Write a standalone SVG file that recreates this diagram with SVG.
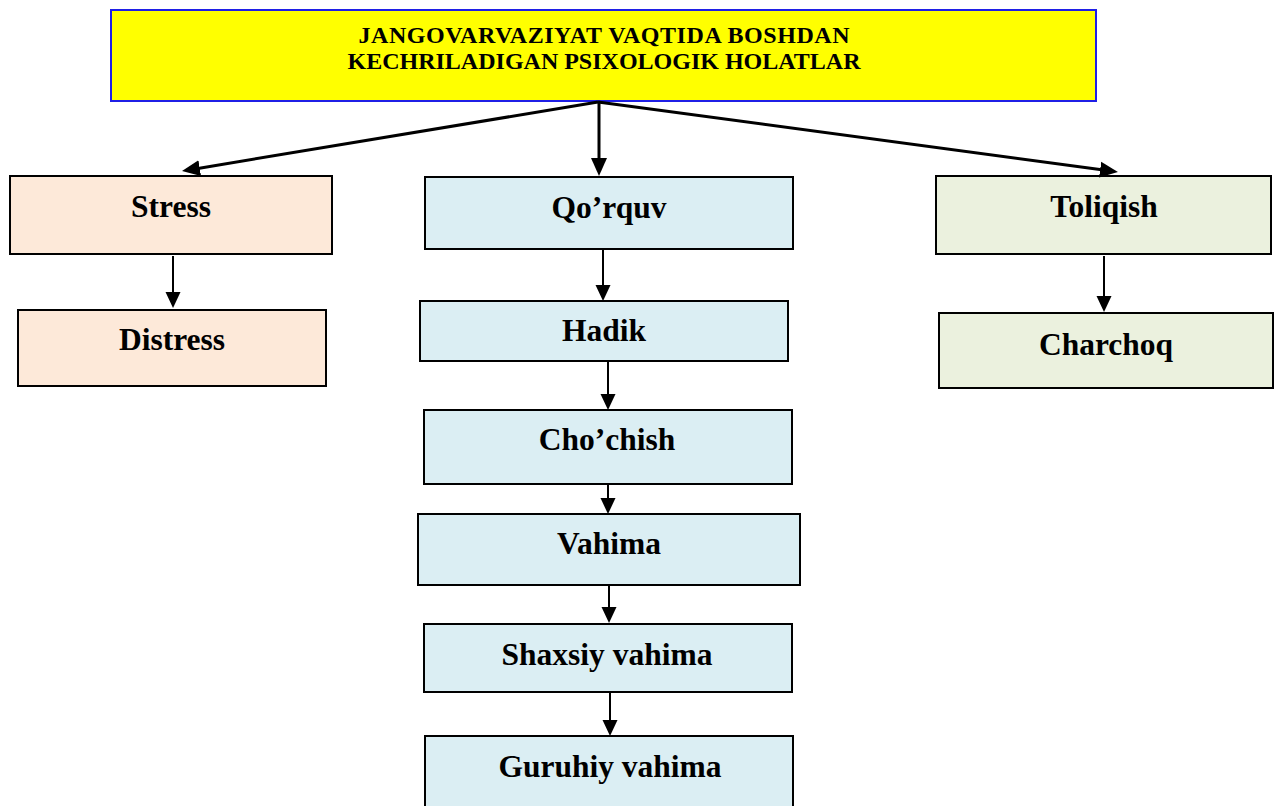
<svg xmlns="http://www.w3.org/2000/svg" width="1278" height="806" viewBox="0 0 1278 806">
<style>
.t{font-family:"Liberation Serif","Times New Roman",serif;font-weight:bold;fill:#000;text-anchor:middle}
.title{font-size:24px}
.n{font-size:31.5px}
.box{stroke:#000;stroke-width:2}
.peach{fill:#FDE9D9}
.blue{fill:#DBEEF3}
.green{fill:#EBF1DE}
.c1{stroke:#000;stroke-width:3;fill:none}
.c2{stroke:#000;stroke-width:2;fill:none}
</style>
<defs>
<marker id="ah" markerUnits="userSpaceOnUse" markerWidth="16" markerHeight="16" refX="10" refY="8" orient="auto">
<path d="M0,0.5 L16,8 L0,15.5 Z" fill="#000"/>
</marker>
<marker id="ahb" markerUnits="userSpaceOnUse" markerWidth="18" markerHeight="18" refX="11" refY="9" orient="auto">
<path d="M0,1 L18,9 L0,17 Z" fill="#000"/>
</marker>
</defs>
<rect width="1278" height="806" fill="#fff"/>
<g id="title">
<rect x="111" y="10" width="985" height="91" fill="#FFFF00" stroke="#1F1FE6" stroke-width="2"/>
<text class="t title" x="604" y="43" textLength="491">JANGOVARVAZIYAT VAQTIDA BOSHDAN</text>
<text class="t title" x="604" y="69">KECHRILADIGAN PSIXOLOGIK HOLATLAR</text>
</g>
<g id="stress">
<rect class="box peach" x="10" y="176" width="322" height="78"/>
<text class="t n" x="171" y="217">Stress</text>
</g>
<g id="distress">
<rect class="box peach" x="18" y="310" width="308" height="76"/>
<text class="t n" x="172" y="350">Distress</text>
</g>
<g id="qorquv">
<rect class="box blue" x="425" y="177" width="368" height="72"/>
<text class="t n" x="609" y="218">Qo’rquv</text>
</g>
<g id="hadik">
<rect class="box blue" x="420" y="301" width="368" height="60"/>
<text class="t n" x="604" y="341">Hadik</text>
</g>
<g id="chochish">
<rect class="box blue" x="424" y="410" width="368" height="74"/>
<text class="t n" x="607" y="450">Cho’chish</text>
</g>
<g id="vahima">
<rect class="box blue" x="418" y="514" width="382" height="71"/>
<text class="t n" x="609" y="554">Vahima</text>
</g>
<g id="shaxsiy">
<rect class="box blue" x="424" y="624" width="368" height="68"/>
<text class="t n" x="607" y="665">Shaxsiy vahima</text>
</g>
<g id="guruhiy">
<rect class="box blue" x="425" y="736" width="368" height="80"/>
<text class="t n" x="610" y="777">Guruhiy vahima</text>
</g>
<g id="toliqish">
<rect class="box green" x="936" y="176" width="335" height="78"/>
<text class="t n" x="1104" y="217">Toliqish</text>
</g>
<g id="charchoq">
<rect class="box green" x="939" y="313" width="334" height="75"/>
<text class="t n" x="1106" y="355">Charchoq</text>
</g>
<g id="connectors">
<line class="c1" x1="598" y1="102" x2="188.9" y2="169.9" marker-end="url(#ahb)"/>
<line class="c1" x1="599" y1="102" x2="599" y2="169" marker-end="url(#ahb)"/>
<line class="c1" x1="598" y1="102" x2="1111" y2="171.1" marker-end="url(#ahb)"/>
<line class="c2" x1="173" y1="256" x2="173" y2="302" marker-end="url(#ah)"/>
<line class="c2" x1="603" y1="250" x2="603" y2="295" marker-end="url(#ah)"/>
<line class="c2" x1="608" y1="362" x2="608" y2="404" marker-end="url(#ah)"/>
<line class="c2" x1="608" y1="484" x2="608" y2="508" marker-end="url(#ah)"/>
<line class="c2" x1="609" y1="585" x2="609" y2="617" marker-end="url(#ah)"/>
<line class="c2" x1="610" y1="693" x2="610" y2="730" marker-end="url(#ah)"/>
<line class="c2" x1="1104" y1="256" x2="1104" y2="306" marker-end="url(#ah)"/>
</g>
</svg>
